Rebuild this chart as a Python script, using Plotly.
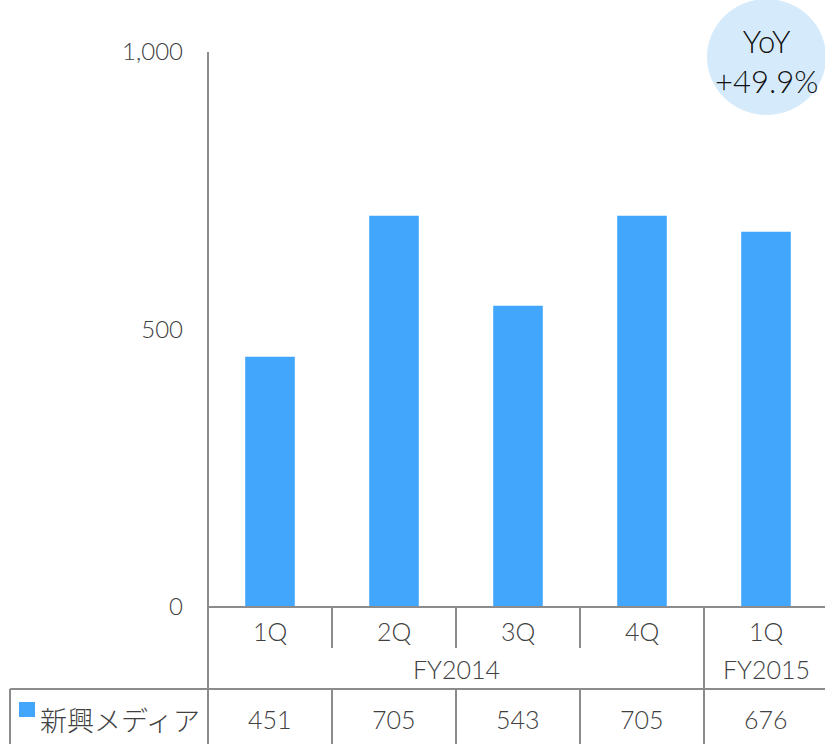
import plotly.graph_objects as go

quarters = ["1Q", "2Q", "3Q", "4Q", "1Q"]
fiscal_years = ["FY2014", "FY2015"]
fy_spans = [(0, 3), (4, 4)]
series_name = "新興メディア"
values = [451, 705, 543, 705, 676]
yoy_text = "YoY<br>+49.9%"
y_ticks = [0, 500, 1000]
y_tick_text = ["0", "500", "1,000"]

W, H = 828, 744
L, T = 208, 52
B = H - 607
R = 0
plot_h = H - T - B
plot_w = W - L - R

def py(px):
    return (H - B - px) / plot_h

def pxx(px):
    return (px - L) / plot_w

BAR = "#42a6fc"
GRID = "#8c8c8c"
TXT = "#404040"
FONT = "Lato, Noto Sans CJK JP, sans-serif"
LIGHT = 300

n = len(values)
xs = list(range(n))

fig = go.Figure()
fig.add_trace(go.Bar(x=xs, y=values, marker=dict(color=BAR, line=dict(width=0)),
                     width=0.4, showlegend=False, hoverinfo="skip"))

shapes = []
line = dict(color=GRID, width=2)
shapes.append(dict(type="line", xref="paper", yref="paper", x0=0, x1=0, y0=py(745), y1=1, line=line))
shapes.append(dict(type="line", xref="paper", yref="paper", x0=0, x1=1, y0=0, y1=0, line=line))
for i in range(1, n):
    x = i / n
    is_fy_border = (i == 4)
    y0 = py(745) if is_fy_border else py(648)
    shapes.append(dict(type="line", xref="paper", yref="paper", x0=x, x1=x, y0=y0, y1=0, line=line))
    if not is_fy_border:
        shapes.append(dict(type="line", xref="paper", yref="paper", x0=x, x1=x, y0=py(745), y1=py(689), line=line))
shapes.append(dict(type="line", xref="paper", yref="paper", x0=pxx(10), x1=1, y0=py(689), y1=py(689), line=line))
shapes.append(dict(type="line", xref="paper", yref="paper", x0=pxx(10), x1=pxx(10), y0=py(745), y1=py(689), line=line))
shapes.append(dict(type="rect", xref="paper", yref="paper", x0=pxx(19), x1=pxx(35), y0=py(717), y1=py(702),
                   fillcolor=BAR, line=dict(width=0)))
shapes.append(dict(type="circle", xref="paper", yref="paper", x0=pxx(707), x1=pxx(826), y0=py(115), y1=py(-1),
                   fillcolor="#d5ebfb", line=dict(width=0), layer="above"))

annotations = []
for i, q in enumerate(quarters):
    annotations.append(dict(x=i, y=py(631), xref="x", yref="paper", text=q, showarrow=False,
                            font=dict(size=25, color=TXT, family=FONT, weight=LIGHT), xanchor="center", yanchor="middle"))
    annotations.append(dict(x=i, y=py(719), xref="x", yref="paper", text=f"{values[i]:,}", showarrow=False,
                            font=dict(size=25, color=TXT, family=FONT, weight=LIGHT), xanchor="center", yanchor="middle"))
for fy, (a, b) in zip(fiscal_years, fy_spans):
    annotations.append(dict(x=(a + b) / 2, y=py(669), xref="x", yref="paper", text=fy, showarrow=False,
                            font=dict(size=25, color=TXT, family=FONT, weight=LIGHT), xanchor="center", yanchor="middle"))
annotations.append(dict(x=pxx(38), y=py(719), xref="paper", yref="paper", text=series_name, showarrow=False,
                        font=dict(size=27, color=TXT, family="Noto Sans CJK JP", weight=LIGHT),
                        xanchor="left", yanchor="middle"))
annotations.append(dict(x=pxx(766), y=py(61), xref="paper", yref="paper", text=yoy_text, showarrow=False,
                        font=dict(size=31, color="#111111", family=FONT, weight=LIGHT), xanchor="center",
                        yanchor="middle", align="center"))

fig.update_layout(
    width=W, height=H,
    margin=dict(l=L, r=R, t=T, b=B, pad=0),
    paper_bgcolor="white", plot_bgcolor="white",
    shapes=shapes, annotations=annotations,
    xaxis=dict(range=[-0.5, n - 0.5], showticklabels=False, showgrid=False, zeroline=False,
               showline=False, ticks="", fixedrange=True),
    yaxis=dict(range=[0, 1000], tickvals=y_ticks, ticktext=y_tick_text, showgrid=False, zeroline=False,
               showline=False, ticks="", ticklabelstandoff=24,
               tickfont=dict(size=24, color=TXT, family=FONT, weight=LIGHT), fixedrange=True),
    bargap=0.6,
)

fig.write_html("out.html", config={"responsive": False, "displayModeBar": False},
               post_script="document.body.style.margin='0';document.documentElement.style.overflow='hidden';document.body.style.overflow='hidden';")
